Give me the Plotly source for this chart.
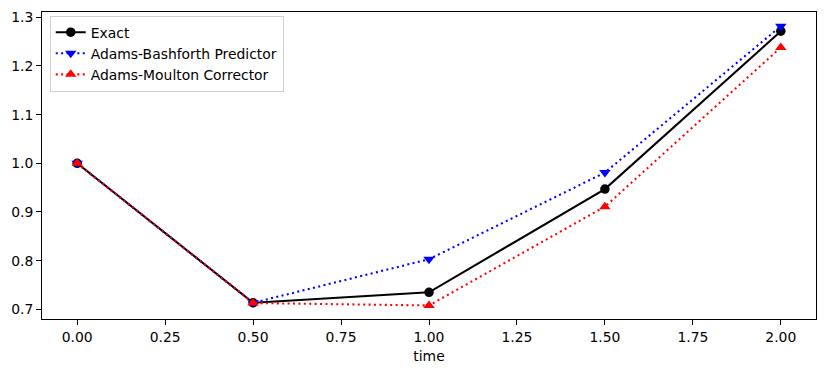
import plotly.graph_objects as go

time = [0.0, 0.5, 1.0, 1.5, 2.0]
exact = [1.0, 0.7135, 0.7350, 0.9471, 1.2714]
predictor = [1.0, 0.7135, 0.8030, 0.9810, 1.2816]
corrector = [1.0, 0.7130, 0.7080, 0.9110, 1.2380]

FS = 13.9

fig = go.Figure()
fig.add_trace(go.Scatter(x=time, y=exact, mode="lines+markers", name="Exact",
                         line=dict(color="black", width=2.08),
                         marker=dict(symbol="circle", size=9.5, color="black")))
fig.add_trace(go.Scatter(x=time, y=predictor, mode="lines+markers", name="Adams-Bashforth Predictor",
                         line=dict(color="blue", width=2.08, dash="2px,3.4px"),
                         marker=dict(symbol="triangle-down", size=10, color="blue")))
fig.add_trace(go.Scatter(x=time, y=corrector, mode="lines+markers", name="Adams-Moulton Corrector",
                         line=dict(color="red", width=2.08, dash="2px,3.4px"),
                         marker=dict(symbol="triangle-up", size=10, color="red")))

axis_common = dict(showline=True, linecolor="black", linewidth=1, mirror=True,
                   ticks="outside", ticklen=5, tickwidth=1, tickcolor="black",
                   showgrid=False, zeroline=False,
                   tickfont=dict(size=FS, color="black"))

fig.update_layout(
    width=826, height=372,
    margin=dict(l=42, r=9, t=10, b=53),
    paper_bgcolor="white", plot_bgcolor="white",
    font=dict(family="DejaVu Sans", size=FS, color="black"),
    xaxis=dict(range=[-0.1, 2.1], tickvals=[0, 0.25, 0.5, 0.75, 1.0, 1.25, 1.5, 1.75, 2.0],
               ticktext=["0.00", "0.25", "0.50", "0.75", "1.00", "1.25", "1.50", "1.75", "2.00"],
               title=dict(text="time", font=dict(size=FS), standoff=7), **axis_common),
    yaxis=dict(range=[0.6802, 1.3108], tickvals=[0.7, 0.8, 0.9, 1.0, 1.1, 1.2, 1.3],
               ticktext=["0.7", "0.8", "0.9", "1.0", "1.1", "1.2", "1.3"], **axis_common),
    legend=dict(x=0.01, y=0.988, xanchor="left", yanchor="top",
                bgcolor="rgba(255,255,255,0.8)", bordercolor="#d0d0d0", borderwidth=1,
                font=dict(size=FS), tracegroupgap=0),
    showlegend=True,
)

fig.write_html("out.html", config={"displayModeBar": False},
               post_script="document.body.style.margin='0';")
